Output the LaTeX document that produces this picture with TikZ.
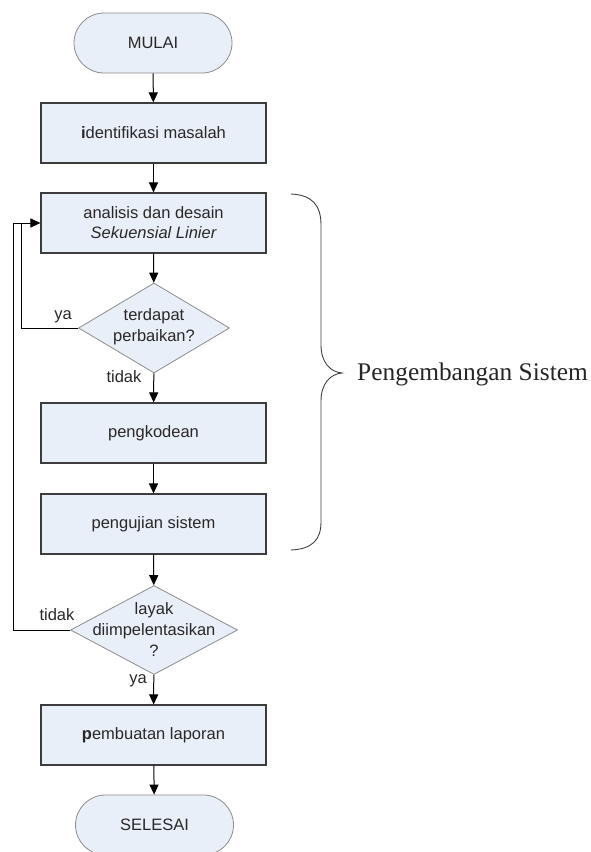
\documentclass[tikz,border=0pt]{standalone}
\usepackage{fontspec}
\setmainfont{Liberation Serif}
\newfontfamily\arialf{Liberation Sans}
\usetikzlibrary{shapes.geometric,arrows.meta}
\definecolor{boxfill}{RGB}{233,239,248}
\definecolor{boxdraw}{RGB}{60,60,60}
\definecolor{softdraw}{RGB}{140,140,140}
\definecolor{txt}{RGB}{40,40,40}
\tikzset{
  lbl/.style={font=\arialf\fontsize{16.5}{21}\selectfont, text=txt, inner sep=0pt},
  procbox/.style={draw=boxdraw, fill=boxfill, line width=1.1pt, minimum width=225pt, minimum height=60pt, inner sep=0pt, align=center, font=\arialf\fontsize{16.5}{20}\selectfont, text=txt},
  termbox/.style={draw=softdraw, fill=boxfill, line width=0.8pt, rounded corners=30pt, minimum width=158pt, minimum height=60pt, inner sep=0pt, font=\arialf\fontsize{16.5}{20}\selectfont, text=txt},
  decbox/.style={diamond, draw=softdraw, fill=boxfill, line width=0.8pt, inner sep=0pt},
  flow/.style={draw=black, line width=1pt, -{Triangle[length=10pt,width=9pt]}},
  plain/.style={draw=black, line width=1pt}
}
\begin{document}
\begin{tikzpicture}[x=1pt,y=-1pt]
\useasboundingbox (0,0) rectangle (590,852);
\clip (0,0) rectangle (590,852);
\node[termbox] (mulai) at (153,43) {MULAI};
\node[procbox] (ident) at (153.5,133) {{\bfseries i}dentifikasi masalah};
\node[procbox] (anal) at (153.5,223) {analisis dan desain\\\itshape Sekuensial Linier};
\node[decbox, minimum width=151pt, minimum height=90pt] (d1) at (154,328) {};
\node[lbl, align=center] (d1t) at (154,327) {terdapat\\perbaikan?};
\node[procbox] (kode) at (153.5,433) {pengkodean};
\node[procbox] (uji) at (153.5,524) {pengujian sistem};
\node[decbox, minimum width=167pt, minimum height=89pt] (d2) at (154,630) {};
\node[lbl, align=center] (d2t) at (154,630) {layak\\diimpelentasikan\\?};
\node[procbox] (lapor) at (153.5,735) {{\bfseries p}embuatan laporan};
\node[termbox] (selesai) at (154.5,825) {SELESAI};

\draw[flow] (mulai) -- (ident);
\draw[flow] (ident) -- (anal);
\draw[flow] (anal) -- (d1);
\draw[flow] (d1) -- (kode);
\draw[flow] (kode) -- (uji);
\draw[flow] (uji) -- (d2);
\draw[flow] (d2) -- (lapor);
\draw[flow] (lapor) -- (selesai);

\coordinate (yaj) at (21,223);
\coordinate (tdj) at (13,223);
\draw[plain] (d1.west) -| (yaj);
\draw[flow] (d2.west) -| (tdj) -- (anal.west);

\node[lbl] (ya1) at (63,317) {ya};
\node[lbl] (td1) at (124,377) {tidak};
\node[lbl] (td2) at (57,615) {tidak};
\node[lbl] (ya2) at (138,681) {ya};

\draw[draw=black!75, line width=0.9pt] (291,194) .. controls (312,195) and (321,205) .. (321,225) -- (321,345) .. controls (321,362) and (330,372) .. (342,373) .. controls (330,374) and (321,384) .. (321,401) -- (321,522) .. controls (321,540) and (312,549) .. (291,550);
\node[anchor=west, inner sep=0pt, font=\fontsize{25.4}{29}\selectfont, text=black!85] (peng) at (357,374) {Pengembangan Sistem};
\end{tikzpicture}
\end{document}
